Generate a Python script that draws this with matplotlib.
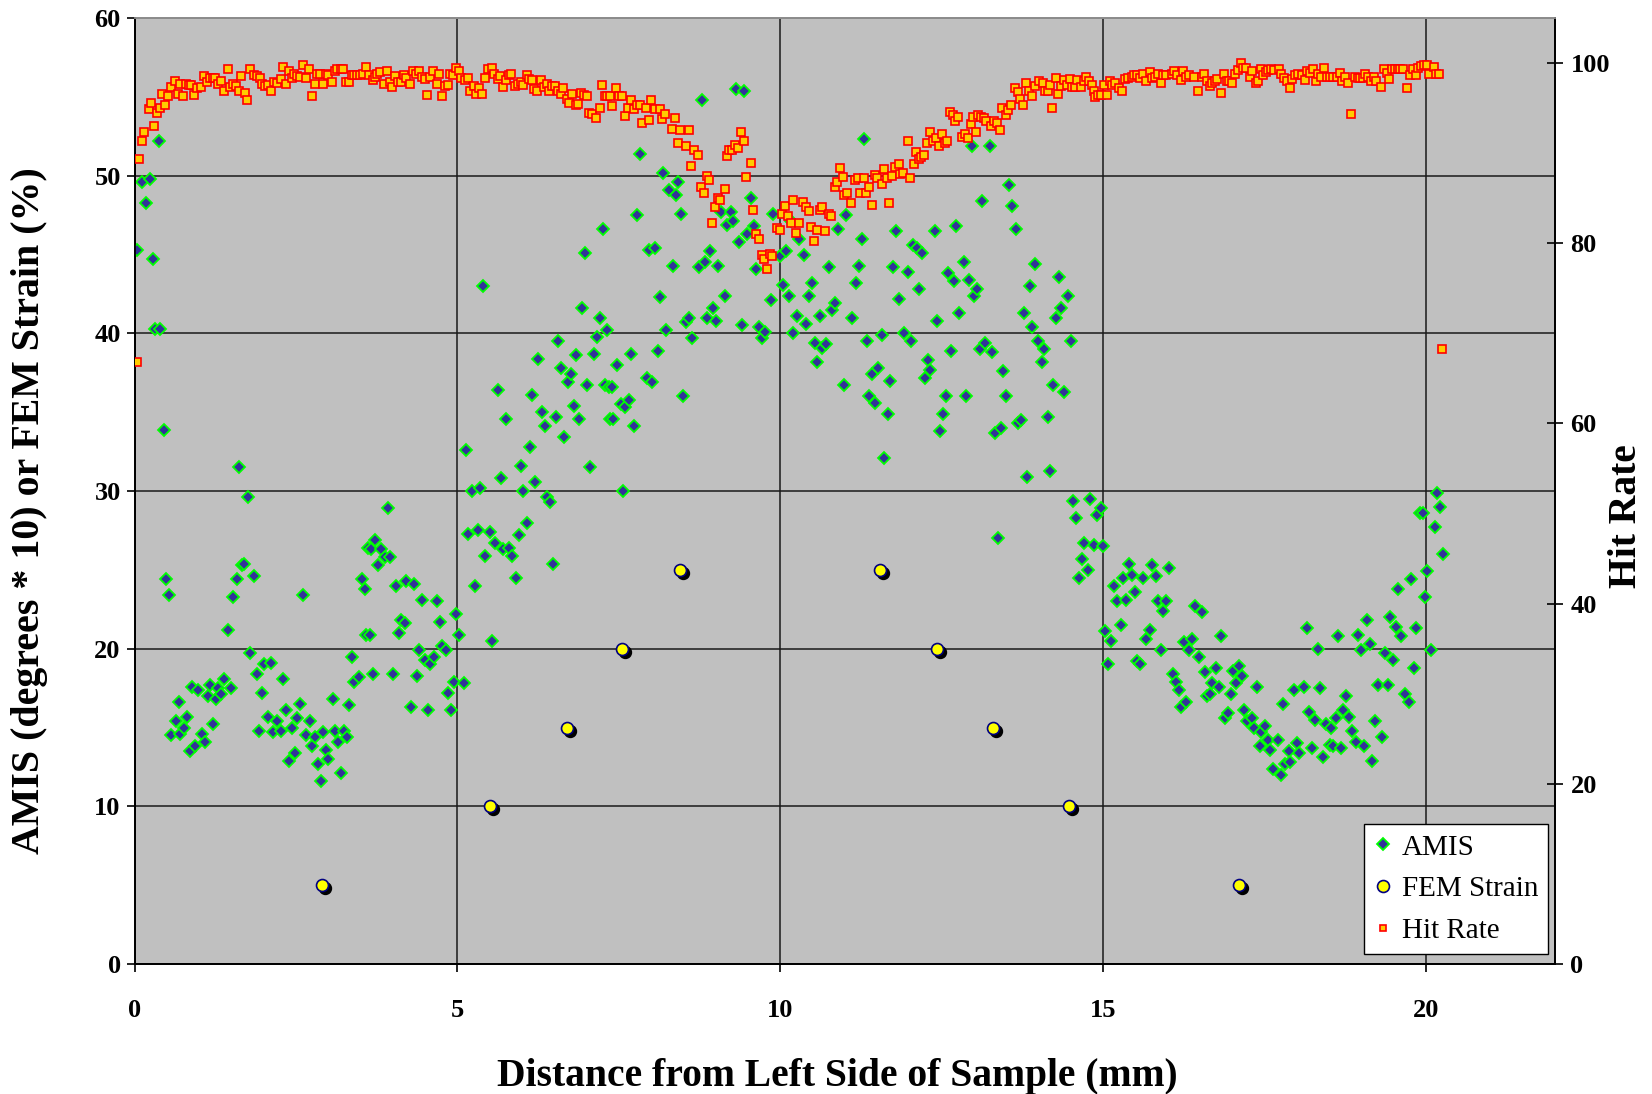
import matplotlib
matplotlib.use("Agg")
import matplotlib.pyplot as plt
from matplotlib.lines import Line2D
from matplotlib.transforms import ScaledTranslation

plt.rcParams['font.family'] = ['Liberation Serif', 'DejaVu Serif']

# ---------------- data ----------------
amis_x = [0.04, 0.12, 0.17, 0.24, 0.28, 0.32, 0.37, 0.40, 0.45, 0.49, 0.53, 0.57, 0.64, 0.68, 0.71,
          0.77, 0.81, 0.85, 0.89, 0.94, 0.98, 1.04, 1.09, 1.13, 1.17, 1.22, 1.26, 1.29, 1.34, 1.39,
          1.45, 1.49, 1.53, 1.58, 1.62, 1.66, 1.70, 1.75, 1.79, 1.85, 1.89, 1.93, 1.98, 2.01, 2.07,
          2.11, 2.14, 2.20, 2.26, 2.30, 2.35, 2.39, 2.43, 2.48, 2.52, 2.56, 2.60, 2.65, 2.71, 2.74,
          2.79, 2.84, 2.88, 2.92, 2.96, 3.00, 3.07, 3.11, 3.15, 3.19, 3.24, 3.29, 3.32, 3.37, 3.40,
          3.47, 3.52, 3.56, 3.59, 3.62, 3.64, 3.66, 3.69, 3.73, 3.77, 3.82, 3.88, 3.92, 3.96, 4.00,
          4.05, 4.09, 4.13, 4.18, 4.21, 4.28, 4.32, 4.37, 4.41, 4.45, 4.50, 4.54, 4.58, 4.63, 4.69,
          4.73, 4.76, 4.82, 4.86, 4.90, 4.95, 4.98, 5.03, 5.10, 5.13, 5.17, 5.22, 5.27, 5.31, 5.35,
          5.39, 5.43, 5.50, 5.54, 5.58, 5.63, 5.67, 5.70, 5.75, 5.80, 5.85, 5.91, 5.95, 5.98, 6.02,
          6.07, 6.12, 6.16, 6.20, 6.24, 6.31, 6.35, 6.38, 6.43, 6.48, 6.52, 6.56, 6.60, 6.65, 6.71,
          6.76, 6.80, 6.84, 6.88, 6.93, 6.97, 7.01, 7.05, 7.12, 7.16, 7.20, 7.25, 7.29, 7.32, 7.34,
          7.36, 7.39, 7.41, 7.47, 7.53, 7.56, 7.60, 7.66, 7.69, 7.73, 7.78, 7.82, 7.93, 7.97, 8.01,
          8.06, 8.10, 8.14, 8.19, 8.23, 8.27, 8.33, 8.38, 8.42, 8.46, 8.50, 8.54, 8.59, 8.63, 8.74,
          8.79, 8.83, 8.87, 8.91, 8.95, 9.00, 9.04, 9.08, 9.14, 9.18, 9.23, 9.27, 9.32, 9.36, 9.40,
          9.44, 9.49, 9.55, 9.59, 9.63, 9.67, 9.71, 9.77, 9.85, 9.88, 10.00, 10.04, 10.09, 10.13, 10.17,
          10.19, 10.26, 10.29, 10.36, 10.40, 10.44, 10.49, 10.53, 10.57, 10.61, 10.65, 10.70, 10.76, 10.80, 10.85,
          10.89, 10.98, 11.02, 11.11, 11.17, 11.22, 11.26, 11.30, 11.34, 11.38, 11.42, 11.47, 11.52, 11.57, 11.61,
          11.66, 11.70, 11.74, 11.79, 11.83, 11.91, 11.98, 12.02, 12.06, 12.12, 12.15, 12.20, 12.24, 12.28, 12.32,
          12.39, 12.43, 12.47, 12.52, 12.56, 12.60, 12.64, 12.69, 12.72, 12.77, 12.84, 12.87, 12.92, 12.97, 13.00,
          13.05, 13.09, 13.13, 13.17, 13.24, 13.28, 13.32, 13.37, 13.42, 13.45, 13.49, 13.54, 13.58, 13.65, 13.68,
          13.73, 13.77, 13.82, 13.86, 13.90, 13.94, 13.99, 14.05, 14.09, 14.14, 14.18, 14.22, 14.27, 14.31, 14.35,
          14.39, 14.45, 14.50, 14.54, 14.58, 14.63, 14.67, 14.71, 14.79, 14.77, 14.86, 14.90, 14.96, 14.99, 15.03,
          15.08, 15.12, 15.16, 15.21, 15.27, 15.31, 15.36, 15.40, 15.44, 15.49, 15.53, 15.57, 15.61, 15.67, 15.72,
          15.76, 15.81, 15.85, 15.89, 15.93, 15.98, 16.02, 16.08, 16.13, 16.17, 16.20, 16.25, 16.29, 16.33, 16.38,
          16.42, 16.49, 16.53, 16.57, 16.60, 16.65, 16.68, 16.74, 16.79, 16.83, 16.88, 16.93, 16.98, 17.01, 17.06,
          17.11, 17.15, 17.18, 17.23, 17.30, 17.33, 17.38, 17.43, 17.45, 17.51, 17.56, 17.59, 17.63, 17.71, 17.75,
          17.79, 17.81, 17.87, 17.90, 17.95, 18.00, 18.04, 18.11, 18.15, 18.19, 18.23, 18.28, 18.32, 18.36, 18.40,
          18.45, 18.51, 18.53, 18.56, 18.60, 18.63, 18.69, 18.72, 18.76, 18.81, 18.85, 18.92, 18.95, 19.00, 19.04,
          19.09, 19.13, 19.17, 19.21, 19.26, 19.32, 19.36, 19.41, 19.44, 19.49, 19.54, 19.57, 19.61, 19.67, 19.73,
          19.76, 19.81, 19.85, 19.91, 19.95, 19.99, 20.02, 20.07, 20.14, 20.17, 20.21, 20.26]
amis = [45.3, 49.6, 48.3, 49.8, 44.7, 40.3, 52.2, 40.3, 33.9, 24.4, 23.4, 14.5, 15.4, 16.6, 14.6,
        15.0, 15.7, 13.5, 17.6, 13.8, 17.4, 14.6, 14.1, 17.0, 17.7, 15.2, 16.8, 17.5, 17.1, 18.1,
        21.2, 17.5, 23.3, 24.4, 31.5, 25.3, 25.4, 29.6, 19.7, 24.6, 18.4, 14.8, 17.2, 19.0, 15.7,
        19.1, 14.7, 15.4, 14.8, 18.1, 16.1, 12.9, 15.0, 13.4, 15.6, 16.5, 23.4, 14.5, 15.4, 13.8,
        14.4, 12.7, 11.6, 14.7, 13.6, 13.0, 16.8, 14.8, 14.1, 12.1, 14.8, 14.4, 16.4, 19.5, 17.9,
        18.2, 24.4, 23.8, 20.9, 26.4, 20.9, 26.3, 18.4, 26.9, 25.3, 26.3, 25.8, 28.9, 25.8, 18.4,
        24.0, 21.0, 21.8, 21.6, 24.3, 16.3, 24.1, 18.3, 19.9, 23.1, 19.3, 16.1, 19.0, 19.5, 23.0,
        21.7, 20.2, 19.9, 17.2, 16.1, 17.9, 22.2, 20.9, 17.8, 32.6, 27.3, 30.0, 24.0, 27.5, 30.2,
        43.0, 25.9, 27.4, 20.5, 26.7, 36.4, 30.8, 26.3, 34.6, 26.4, 25.9, 24.5, 27.2, 31.6, 30.0,
        28.0, 32.8, 36.1, 30.6, 38.4, 35.0, 34.1, 29.6, 29.3, 25.4, 34.7, 39.5, 37.8, 33.4, 36.9,
        37.4, 35.4, 38.6, 34.6, 41.6, 45.1, 36.7, 31.5, 38.7, 39.8, 41.0, 46.6, 36.7, 40.2, 36.6,
        34.6, 36.6, 34.6, 38.0, 35.5, 30.0, 35.3, 35.8, 38.7, 34.1, 47.5, 51.4, 37.2, 45.3, 36.9,
        45.4, 38.9, 42.3, 50.2, 40.2, 49.1, 44.3, 48.8, 49.6, 47.6, 36.0, 40.7, 41.0, 39.7, 44.2,
        54.8, 44.5, 41.0, 45.2, 41.6, 40.8, 44.3, 47.7, 42.4, 46.9, 47.7, 47.1, 55.5, 45.8, 40.5,
        55.4, 46.3, 48.6, 46.8, 44.1, 40.4, 39.7, 40.1, 42.1, 47.6, 44.9, 43.1, 45.2, 42.4, 47.1,
        40.0, 41.1, 46.0, 45.0, 40.6, 42.4, 43.2, 39.4, 38.2, 41.1, 39.1, 39.3, 44.2, 41.5, 41.9,
        46.6, 36.7, 47.5, 41.0, 43.2, 44.3, 46.0, 52.3, 39.5, 36.0, 37.4, 35.6, 37.8, 39.9, 32.1,
        34.9, 37.0, 44.2, 46.5, 42.2, 40.0, 43.9, 39.5, 45.6, 45.4, 42.8, 45.1, 37.2, 38.3, 37.7,
        46.5, 40.8, 33.8, 34.9, 36.0, 43.8, 38.9, 43.3, 46.8, 41.3, 44.5, 36.0, 43.4, 51.9, 42.4,
        42.8, 39.0, 48.4, 39.4, 51.9, 38.8, 33.7, 27.0, 34.0, 37.6, 36.0, 49.4, 48.1, 46.6, 34.3,
        34.5, 41.3, 30.9, 43.0, 40.4, 44.4, 39.5, 38.2, 39.0, 34.7, 31.3, 36.7, 41.0, 43.6, 41.6,
        36.3, 42.4, 39.5, 29.4, 28.3, 24.5, 25.7, 26.7, 29.5, 25.0, 26.6, 28.5, 28.9, 26.5, 21.1,
        19.0, 20.5, 24.0, 23.0, 21.5, 24.5, 23.1, 25.4, 24.7, 23.6, 19.2, 19.0, 24.5, 20.6, 21.2,
        25.3, 24.6, 23.0, 19.9, 22.4, 23.0, 25.1, 18.4, 17.9, 17.4, 16.3, 20.4, 16.6, 19.9, 20.6,
        22.7, 19.5, 22.3, 18.5, 17.0, 17.1, 17.8, 18.8, 17.6, 20.8, 15.6, 15.9, 17.1, 18.6, 17.8,
        18.9, 18.3, 16.1, 15.4, 15.6, 15.0, 17.6, 13.8, 14.7, 15.1, 14.2, 13.6, 12.4, 14.2, 12.0,
        16.5, 12.7, 13.5, 12.8, 17.4, 14.0, 13.4, 17.6, 21.3, 16.0, 13.7, 15.5, 20.0, 17.5, 13.1,
        15.2, 13.9, 15.0, 13.8, 15.6, 20.8, 13.7, 16.1, 17.0, 15.7, 14.8, 14.1, 20.9, 19.9, 13.8,
        21.8, 20.3, 12.9, 15.4, 17.7, 14.4, 19.7, 17.7, 22.0, 19.3, 21.4, 23.8, 20.8, 17.1, 16.6,
        24.4, 18.8, 21.3, 28.6, 28.6, 23.3, 24.9, 19.9, 27.7, 29.9, 29.0, 26.0]

fem_x = [2.90, 5.50, 6.70, 7.55, 8.45, 11.55, 12.42, 13.29, 14.47, 17.11]
fem = [5, 10, 15, 20, 25, 25, 20, 15, 10, 5]

hit_x = [0.03, 0.07, 0.11, 0.15, 0.22, 0.26, 0.30, 0.35, 0.39, 0.43, 0.47, 0.52, 0.56, 0.62, 0.67,
         0.71, 0.75, 0.79, 0.84, 0.88, 0.92, 0.96, 1.03, 1.07, 1.12, 1.16, 1.21, 1.25, 1.29, 1.33,
         1.38, 1.44, 1.48, 1.53, 1.57, 1.61, 1.65, 1.71, 1.74, 1.79, 1.85, 1.89, 1.94, 1.98, 2.02,
         2.07, 2.11, 2.16, 2.20, 2.26, 2.30, 2.35, 2.39, 2.43, 2.47, 2.52, 2.56, 2.60, 2.66, 2.70,
         2.74, 2.79, 2.83, 2.87, 2.91, 2.96, 3.00, 3.06, 3.10, 3.14, 3.19, 3.23, 3.27, 3.32, 3.36,
         3.40, 3.44, 3.49, 3.53, 3.59, 3.63, 3.69, 3.72, 3.76, 3.80, 3.86, 3.91, 3.95, 3.99, 4.03,
         4.08, 4.12, 4.17, 4.21, 4.27, 4.31, 4.36, 4.40, 4.45, 4.49, 4.53, 4.57, 4.62, 4.68, 4.72,
         4.76, 4.80, 4.85, 4.89, 4.93, 4.98, 5.02, 5.06, 5.12, 5.17, 5.20, 5.25, 5.29, 5.34, 5.38,
         5.43, 5.47, 5.54, 5.57, 5.62, 5.66, 5.70, 5.75, 5.79, 5.83, 5.89, 5.94, 5.98, 6.02, 6.07,
         6.11, 6.15, 6.19, 6.23, 6.30, 6.34, 6.38, 6.42, 6.46, 6.51, 6.55, 6.60, 6.64, 6.69, 6.73,
         6.78, 6.83, 6.87, 6.91, 6.96, 7.00, 7.03, 7.09, 7.15, 7.20, 7.24, 7.28, 7.32, 7.36, 7.40,
         7.45, 7.50, 7.55, 7.60, 7.64, 7.68, 7.73, 7.78, 7.82, 7.85, 7.92, 7.96, 8.00, 8.06, 8.13,
         8.16, 8.22, 8.32, 8.37, 8.41, 8.45, 8.54, 8.58, 8.62, 8.66, 8.73, 8.77, 8.82, 8.86, 8.90,
         8.94, 8.99, 9.03, 9.07, 9.14, 9.18, 9.21, 9.25, 9.30, 9.35, 9.39, 9.43, 9.47, 9.54, 9.58,
         9.62, 9.67, 9.71, 9.74, 9.80, 9.84, 9.87, 9.95, 9.99, 10.03, 10.07, 10.12, 10.16, 10.20, 10.25,
         10.29, 10.35, 10.40, 10.44, 10.48, 10.52, 10.56, 10.61, 10.65, 10.69, 10.75, 10.78, 10.84, 10.88, 10.93,
         10.97, 10.99, 11.03, 11.10, 11.15, 11.20, 11.24, 11.29, 11.33, 11.38, 11.42, 11.46, 11.50, 11.57, 11.61,
         11.65, 11.69, 11.73, 11.78, 11.83, 11.85, 11.90, 11.98, 12.01, 12.07, 12.10, 12.14, 12.18, 12.23, 12.27,
         12.32, 12.37, 12.41, 12.46, 12.50, 12.55, 12.58, 12.63, 12.68, 12.71, 12.75, 12.81, 12.86, 12.90, 12.95,
         12.99, 13.03, 13.06, 13.10, 13.15, 13.19, 13.27, 13.31, 13.35, 13.40, 13.44, 13.49, 13.52, 13.57, 13.63,
         13.68, 13.71, 13.76, 13.81, 13.85, 13.89, 13.95, 14.00, 14.06, 14.10, 14.14, 14.18, 14.21, 14.27, 14.30,
         14.35, 14.40, 14.44, 14.48, 14.51, 14.57, 14.60, 14.65, 14.70, 14.74, 14.78, 14.82, 14.85, 14.88, 14.92,
         14.97, 15.01, 15.06, 15.10, 15.14, 15.19, 15.25, 15.29, 15.34, 15.38, 15.44, 15.48, 15.52, 15.57, 15.61,
         15.67, 15.72, 15.76, 15.80, 15.85, 15.89, 15.93, 15.98, 16.06, 16.10, 16.15, 16.20, 16.24, 16.28, 16.33,
         16.41, 16.47, 16.53, 16.56, 16.61, 16.65, 16.69, 16.73, 16.77, 16.82, 16.87, 16.91, 16.95, 17.00, 17.04,
         17.08, 17.13, 17.17, 17.21, 17.27, 17.31, 17.36, 17.40, 17.44, 17.48, 17.52, 17.56, 17.60, 17.65, 17.72,
         17.76, 17.80, 17.84, 17.89, 17.93, 17.97, 18.01, 18.08, 18.12, 18.16, 18.20, 18.25, 18.30, 18.33, 18.38,
         18.42, 18.47, 18.52, 18.56, 18.62, 18.66, 18.70, 18.75, 18.79, 18.84, 18.90, 18.94, 18.98, 19.02, 19.06,
         19.10, 19.15, 19.19, 19.23, 19.30, 19.35, 19.39, 19.43, 19.47, 19.52, 19.56, 19.60, 19.64, 19.71, 19.75,
         19.80, 19.84, 19.88, 19.92, 19.97, 20.01, 20.05, 20.12, 20.16, 20.20, 20.25]
hit_rate = [66.8, 89.4, 91.4, 92.4, 94.9, 95.6, 93.0, 94.5, 95.0, 96.6, 95.3, 96.3, 97.4, 98.0, 96.6,
            97.7, 96.3, 97.7, 97.6, 97.6, 96.5, 97.2, 97.3, 98.6, 97.9, 98.3, 98.4, 98.4, 97.7, 98.0,
            96.9, 99.3, 97.3, 97.7, 97.5, 96.9, 98.6, 96.7, 95.9, 99.3, 98.7, 98.6, 98.3, 97.7, 97.5,
            97.6, 96.9, 97.9, 97.8, 98.2, 99.6, 97.7, 99.1, 98.4, 98.8, 98.6, 98.5, 99.8, 98.4, 99.3,
            96.4, 97.7, 98.8, 98.8, 97.7, 98.8, 98.7, 97.9, 99.1, 99.3, 99.3, 99.3, 97.9, 97.9, 98.7,
            98.7, 98.7, 98.7, 98.8, 99.6, 98.7, 98.1, 98.5, 98.8, 99.0, 97.7, 99.1, 97.9, 97.3, 98.6,
            97.9, 97.9, 98.7, 98.4, 97.7, 99.1, 98.8, 99.1, 98.5, 98.2, 96.5, 98.5, 99.1, 97.7, 98.8,
            96.3, 97.5, 97.6, 98.8, 98.7, 99.5, 99.1, 98.4, 98.1, 98.4, 96.9, 97.5, 96.6, 97.2, 96.6,
            98.4, 99.3, 99.5, 98.8, 98.2, 98.6, 97.3, 98.1, 98.7, 98.8, 97.5, 97.7, 97.9, 97.6, 98.7,
            98.2, 98.1, 97.1, 96.9, 98.1, 97.3, 97.7, 96.9, 97.5, 97.5, 96.9, 96.6, 97.2, 96.0, 95.6,
            96.6, 95.3, 95.5, 96.7, 96.5, 96.3, 94.5, 94.3, 93.9, 95.0, 97.6, 96.3, 96.4, 96.4, 95.2,
            97.2, 96.3, 96.3, 94.1, 95.0, 95.9, 94.9, 95.4, 95.3, 93.4, 95.0, 93.7, 95.9, 94.9, 94.9,
            93.8, 94.3, 92.7, 93.9, 91.1, 92.6, 90.8, 92.6, 88.6, 90.4, 89.8, 86.3, 85.6, 87.5, 87.0,
            82.3, 84.0, 85.0, 84.8, 86.0, 89.7, 90.4, 90.4, 90.9, 90.6, 92.4, 91.4, 87.4, 88.9, 83.7,
            81.0, 80.5, 78.7, 78.3, 77.2, 78.8, 78.6, 81.7, 81.5, 83.3, 84.1, 83.0, 82.2, 84.8, 81.1,
            82.3, 84.6, 84.0, 83.6, 81.8, 80.2, 81.5, 83.7, 84.0, 81.4, 83.2, 83.0, 86.2, 86.8, 88.4,
            87.4, 85.4, 85.6, 84.5, 87.0, 87.2, 85.6, 87.3, 85.6, 86.3, 84.3, 87.6, 87.3, 86.6, 88.3,
            87.3, 84.5, 87.5, 88.5, 88.8, 87.7, 87.8, 91.4, 87.2, 88.8, 90.1, 89.3, 89.6, 89.8, 91.1,
            92.4, 91.4, 91.7, 90.8, 92.1, 91.1, 91.4, 94.6, 94.2, 93.6, 94.0, 91.8, 92.1, 91.7, 93.2,
            94.0, 92.4, 94.2, 94.0, 93.9, 93.6, 93.0, 93.6, 93.3, 92.6, 95.0, 94.2, 94.8, 95.3, 97.2,
            96.8, 96.0, 95.3, 97.8, 96.9, 96.3, 97.5, 98.0, 97.8, 96.9, 96.9, 97.6, 95.0, 98.3, 96.6,
            97.5, 98.1, 97.6, 98.2, 97.4, 97.4, 98.1, 97.3, 98.0, 98.5, 98.0, 97.6, 96.9, 96.2, 96.5,
            96.5, 97.6, 96.5, 98.0, 97.6, 97.8, 97.2, 96.9, 98.2, 98.3, 98.5, 98.7, 98.7, 98.3, 98.8,
            98.0, 99.0, 98.3, 98.5, 98.8, 97.8, 98.7, 98.7, 98.8, 99.1, 98.7, 98.1, 99.1, 98.5, 98.7,
            98.5, 96.9, 98.5, 98.8, 98.0, 97.5, 97.8, 98.0, 98.2, 96.7, 98.8, 98.0, 98.0, 97.8, 98.8,
            99.2, 100.0, 99.5, 99.5, 98.5, 99.1, 97.8, 98.0, 99.3, 98.7, 99.0, 99.2, 99.3, 99.2, 99.3,
            98.8, 98.3, 98.0, 97.2, 98.2, 98.7, 98.8, 98.7, 98.1, 99.1, 98.9, 99.3, 98.0, 98.8, 98.5,
            99.5, 98.5, 98.5, 98.5, 98.5, 98.9, 98.0, 98.5, 97.8, 94.4, 98.5, 98.3, 98.3, 98.4, 98.8,
            98.5, 98.0, 98.5, 98.0, 97.4, 99.3, 98.9, 98.2, 99.3, 99.4, 99.3, 99.3, 99.4, 97.2, 98.7,
            99.3, 98.7, 99.5, 99.7, 99.8, 99.8, 98.8, 99.6, 98.8, 98.8, 68.3]

x_ticks = [0, 5, 10, 15, 20]
left_ticks = [0, 10, 20, 30, 40, 50, 60]
right_ticks = [0, 20, 40, 60, 80, 100]

# ---------------- figure ----------------
fig = plt.figure(figsize=(16.52, 10.94), dpi=100)
ax = fig.add_axes([0.0815, 0.1188, 0.8599, 0.8647])
ax.set_facecolor('#C0C0C0')
ax.set_xlim(0, 22)
ax.set_ylim(0, 60)
ax.set_axisbelow(True)
ax.grid(True, color='#1a1a1a', linewidth=1.1)

ax2 = ax.twinx()
ax2.set_ylim(0, 105)

# AMIS
ax.plot(amis_x, amis, linestyle='none', marker='D', markersize=6.0,
        markerfacecolor='#333399', markeredgecolor='#00FF00', markeredgewidth=1.3, zorder=3)

# FEM strain with shadow
shadow = ax.transData + ScaledTranslation(2.2 / 72, -2.2 / 72, fig.dpi_scale_trans)
ax.plot(fem_x, fem, linestyle='none', marker='o', markersize=8.6,
        markerfacecolor='black', markeredgecolor='black', transform=shadow, zorder=4)
ax.plot(fem_x, fem, linestyle='none', marker='o', markersize=8.6,
        markerfacecolor='#FFFF00', markeredgecolor='#000080', markeredgewidth=1.2, zorder=5)

# Hit rate
ax2.plot(hit_x, hit_rate, linestyle='none', marker='s', markersize=5.4,
         markerfacecolor='#FFCC00', markeredgecolor='#FF0000', markeredgewidth=1.2, zorder=3)

# axes styling
for a in (ax, ax2):
    for s in ('left', 'bottom', 'right'):
        a.spines[s].set_color('black')
        a.spines[s].set_linewidth(1.3)
    a.spines['top'].set_color('#8c8c8c')
    a.spines['top'].set_linewidth(1.3)

ax.set_xticks(x_ticks)
ax.set_yticks(left_ticks)
ax2.set_yticks(right_ticks)
ax.tick_params(axis='x', direction='out', length=6, width=1.2, pad=19, labelsize=19)
ax.tick_params(axis='y', direction='out', length=6, width=1.2, pad=4, labelsize=19)
ax2.tick_params(axis='y', direction='inout', length=12, width=1.2, pad=5, labelsize=19)
for lab in ax.get_xticklabels() + ax.get_yticklabels() + ax2.get_yticklabels():
    lab.set_fontweight('bold')

ax.set_xlabel('Distance from Left Side of Sample (mm)', fontsize=28.5, fontweight='bold')
ax.xaxis.set_label_coords(0.4944, -0.099)
ax.set_ylabel('AMIS (degrees * 10) or FEM Strain (%)', fontsize=28.7, fontweight='bold')
ax.yaxis.set_label_coords(-0.0607, 0.479)
ax2.set_ylabel('Hit Rate', fontsize=28.5, fontweight='bold')
ax2.yaxis.set_label_coords(1.0375, 0.4736)

handles = [
    Line2D([], [], linestyle='none', marker='D', markersize=6.0, markerfacecolor='#333399',
           markeredgecolor='#00FF00', markeredgewidth=1.3),
    Line2D([], [], linestyle='none', marker='o', markersize=8.6, markerfacecolor='#FFFF00',
           markeredgecolor='#000080', markeredgewidth=1.2),
    Line2D([], [], linestyle='none', marker='s', markersize=4.2, markerfacecolor='#FFCC00',
           markeredgecolor='#FF0000', markeredgewidth=1.2),
]
leg = ax2.legend(handles, ['AMIS', 'FEM Strain', 'Hit Rate'], loc='lower right',
                 bbox_to_anchor=(1548.3 / 1652, 1 - 954 / 1094), bbox_transform=fig.transFigure,
                 fontsize=21, frameon=True, fancybox=False, edgecolor='black', facecolor='white',
                 framealpha=1, borderpad=0.35, labelspacing=0.52, handlelength=0.6,
                 handletextpad=0.33, borderaxespad=0)
leg.get_frame().set_linewidth(1.0)

fig.savefig('out.png', dpi=100, facecolor='white')
